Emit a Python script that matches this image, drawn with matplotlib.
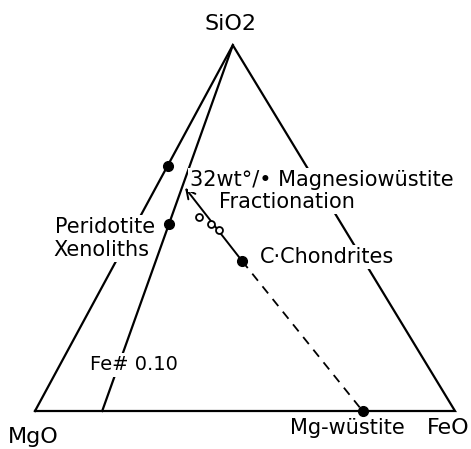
import numpy as np
import matplotlib
matplotlib.use("Agg")
import matplotlib.pyplot as plt

# Ternary compositions as (SiO2, MgO, FeO) fractions
edge_point = (0.67, 0.33, 0.00)          # dot on the MgO-SiO2 join
peridotite = (0.51, 0.41, 0.08)          # peridotite xenoliths
chondrite = (0.41, 0.29, 0.30)           # C-chondrites
mg_wustite = (0.00, 0.22, 0.78)          # Mg-wustite
arrow_tip = (0.61, 0.32, 0.07)           # end of fractionation arrow
open_si = [0.53, 0.51, 0.495]
open_mg = [0.33, 0.31, 0.30]
open_fe = [0.14, 0.18, 0.205]
fe_line_base = (0.00, 0.84, 0.16)        # Fe# line foot on MgO-FeO join

# vertex layout (MgO, FeO, SiO2) in plot units
V_MG = np.array([0.0, 0.0])
V_FE = np.array([1.0, 0.0])
V_SI = np.array([0.471, 0.871])


def tern(si, mg, fe):
    si, mg, fe = np.asarray(si), np.asarray(mg), np.asarray(fe)
    tot = si + mg + fe
    x = (mg * V_MG[0] + fe * V_FE[0] + si * V_SI[0]) / tot
    y = (mg * V_MG[1] + fe * V_FE[1] + si * V_SI[1]) / tot
    return x, y


def px(x, y):
    # pixel position in the picture -> plot units (for label placement)
    return (x - 35) / 420.0, (411 - y) / 420.0


fig = plt.figure(figsize=(4.71, 4.49), dpi=100)
ax = fig.add_axes([0, 0, 1, 1])
ax.set_xlim(-35 / 420.0, 436 / 420.0)
ax.set_ylim(-38 / 420.0, 411 / 420.0)
ax.axis("off")

# triangle
tx, ty = tern([0, 0, 1, 0], [1, 0, 0, 1], [0, 1, 0, 0])
ax.plot(tx, ty, color="black", lw=1.6, solid_joinstyle="miter")

# Fe# 0.10 line
lx, ly = tern([fe_line_base[0], 1], [fe_line_base[1], 0], [fe_line_base[2], 0])
ax.plot(lx, ly, color="black", lw=1.6)

# dashed join chondrite - Mg-wustite
dx, dy = tern([chondrite[0], mg_wustite[0]], [chondrite[1], mg_wustite[1]],
              [chondrite[2], mg_wustite[2]])
ax.plot(dx, dy, color="black", lw=1.3, ls=(0, (5, 4)))

# fractionation arrow
ax_, ay_ = tern(*arrow_tip)
cx, cy = tern(*chondrite)
ax.annotate("", xy=(ax_, ay_), xytext=(cx, cy),
            arrowprops=dict(arrowstyle="->", color="black", lw=1.4,
                            shrinkA=0, shrinkB=0, mutation_scale=16))

# filled points
for p in [edge_point, peridotite, chondrite, mg_wustite]:
    x, y = tern(*p)
    ax.plot(x, y, "o", color="black", ms=7, zorder=6)

# open circles
ox, oy = tern(open_si, open_mg, open_fe)
ax.plot(ox, oy, "o", mfc="white", mec="black", ms=5, mew=1.3, zorder=6)

# labels (white box hides the lines running under the lettering)
box = dict(fc="white", ec="none", pad=1.5)
kw = dict(fontsize=15, va="center", bbox=box, zorder=5)
vk = dict(fontsize=16, va="center", ha="center", zorder=5)
ax.text(*px(230, 24), "SiO2", **vk)
ax.text(*px(33, 437), "MgO", **vk)
ax.text(*px(448, 428), "FeO", **vk)
ax.text(*px(347, 428), "Mg-wüstite", ha="center", **kw)
ax.text(*px(260, 257), "C·Chondrites", ha="left", **kw)
ax.text(*px(55, 227), "Peridotite", ha="left", **kw)
ax.text(*px(53, 250), "Xenoliths", ha="left", **kw)
ax.text(*px(90, 365), "Fe# 0.10", ha="left",
        fontsize=14, va="center", bbox=box, zorder=5)
ax.text(*px(190, 180), "32wt°/• Magnesiowüstite", ha="left", **kw)
ax.text(*px(219, 202), "Fractionation", ha="left", **kw)

fig.savefig("out.png", dpi=100, facecolor="white")
